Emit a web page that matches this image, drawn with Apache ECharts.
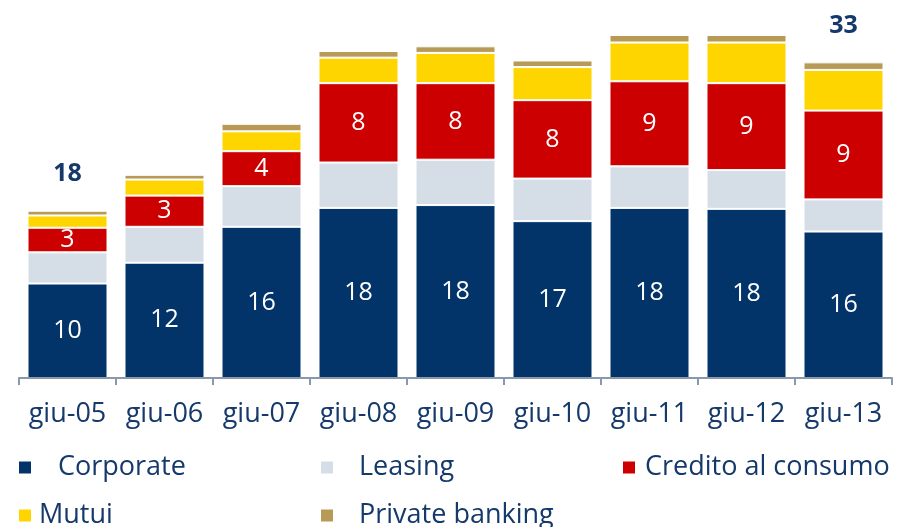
<!DOCTYPE html>
<html>
<head>
<meta charset="utf-8">
<script src="https://cdn.jsdelivr.net/npm/echarts@6/dist/echarts.min.js"></script>
<style>
  html, body { margin: 0; padding: 0; background: #fff; }
  #chart { width: 897px; height: 527px; }
</style>
</head>
<body>
<div id="chart"></div>
<script>
  const categories = ['giu-05', 'giu-06', 'giu-07', 'giu-08', 'giu-09', 'giu-10', 'giu-11', 'giu-12', 'giu-13']
  const corporate = [10.0, 12.2, 16.0, 18.0, 18.3, 16.6, 18.0, 17.9, 15.5]
  const leasing = [3.3, 3.8, 4.3, 4.8, 4.8, 4.5, 4.4, 4.1, 3.4]
  const credito = [2.6, 3.3, 3.7, 8.4, 8.1, 8.3, 9.0, 9.2, 9.4]
  const mutui = [1.3, 1.7, 2.1, 2.7, 3.2, 3.5, 4.1, 4.3, 4.3]
  const privateBanking = [0.5, 0.5, 0.8, 0.7, 0.7, 0.7, 0.8, 0.8, 0.8]
  // totals are only printed over the first and the last bar
  const showTotal = [true, false, false, false, false, false, false, false, true]

  const navy = '#14396a'
  const font = 'Open Sans'

  const totals = categories.map((c, i) =>
    corporate[i] + leasing[i] + credito[i] + mutui[i] + privateBanking[i])

  const inLabel = {
    show: true,
    position: 'inside',
    color: '#fff',
    fontFamily: font,
    fontSize: 25,
    formatter: p => Math.round(p.value)
  }

  function bar (name, data, color, label) {
    return {
      name,
      type: 'bar',
      stack: 'tot',
      data,
      barWidth: 80,
      itemStyle: { color, borderColor: '#fff', borderWidth: 1 },
      label: label || { show: false }
    }
  }

  function legendItem (name, left, top, pad) {
    return {
      data: [name],
      left,
      top,
      padding: 0,
      icon: 'rect',
      itemWidth: 14,
      itemHeight: 14,
      selectedMode: false,
      textStyle: { color: navy, fontFamily: font, fontSize: 27, padding: [0, 0, 0, pad] }
    }
  }

  const chart = echarts.init(document.getElementById('chart'))

  chart.setOption({
    animation: false,
    grid: { left: 19, right: 5, top: 0, bottom: 149 },
    legend: [
      legendItem('Corporate', 17, 454, 21),
      legendItem('Leasing', 319, 454, 20),
      legendItem('Credito al consumo', 621, 454, 4),
      legendItem('Mutui', 17, 502, 2),
      legendItem('Private banking', 319, 502, 20)
    ],
    xAxis: {
      type: 'category',
      data: categories,
      z: 5,
      axisLine: { lineStyle: { color: '#8a98ab', width: 2 } },
      axisTick: { show: true, length: 7, lineStyle: { color: '#8a98ab', width: 2 } },
      axisLabel: { color: navy, fontFamily: font, fontSize: 27, margin: 23, interval: 0 }
    },
    yAxis: {
      type: 'value',
      min: 0,
      max: 40,
      show: false,
      splitLine: { show: false }
    },
    series: [
      bar('Corporate', corporate, '#02346a', inLabel),
      bar('Leasing', leasing, '#d5dee6'),
      bar('Credito al consumo', credito, '#cc0000', inLabel),
      bar('Mutui', mutui, '#ffd500'),
      bar('Private banking', privateBanking, '#b79a56', {
        show: true,
        position: 'top',
        distance: 24,
        color: navy,
        fontFamily: font,
        fontWeight: 'bold',
        fontSize: 25,
        formatter: p => showTotal[p.dataIndex] ? String(Math.round(totals[p.dataIndex])) : ''
      })
    ]
  })
</script>
</body>
</html>
